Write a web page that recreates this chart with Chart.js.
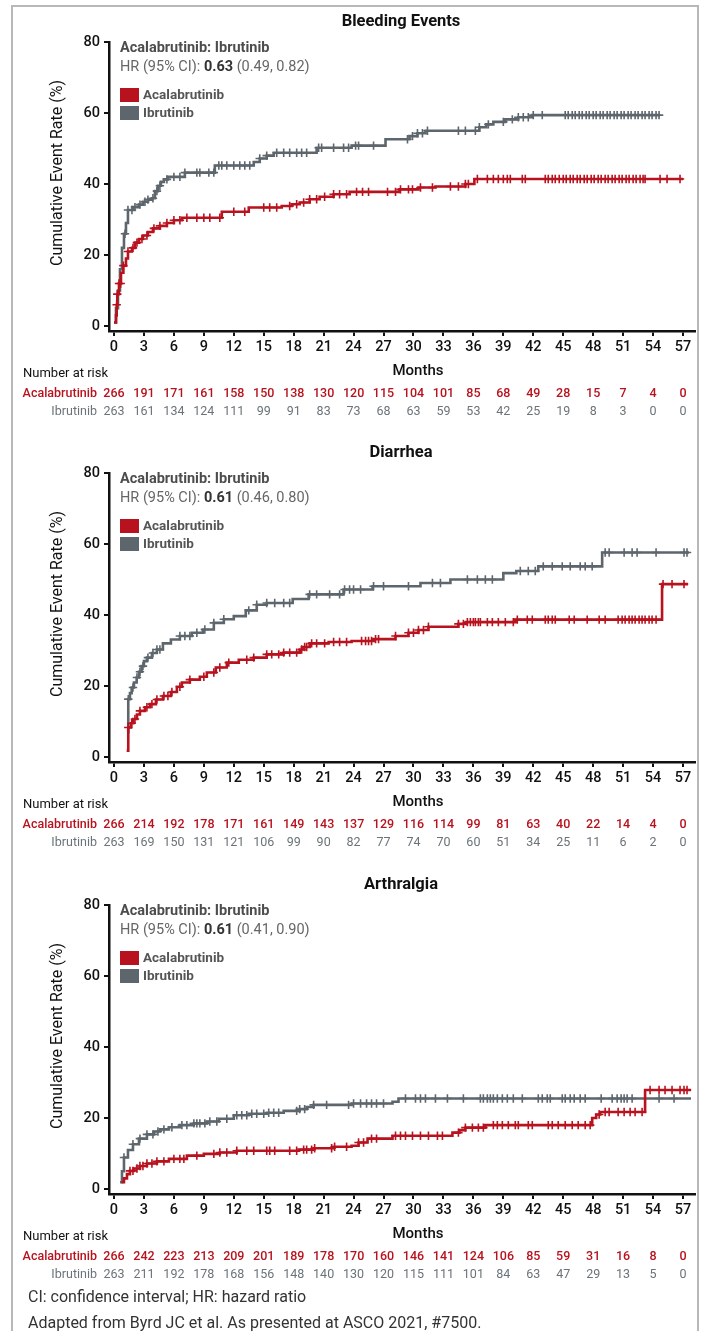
<!DOCTYPE html>
<html>
<head>
<meta charset="utf-8">
<script src="https://cdn.jsdelivr.net/npm/chart.js@4.4.0/dist/chart.umd.min.js"></script>
<style>
  body { margin: 0; background: #fff; width: 704px; height: 1331px; position: relative; overflow: hidden; font-family: Roboto, "Liberation Sans", sans-serif; }
  .frame { position: absolute; left: 11px; top: 5px; width: 684px; height: 1400px; border: 2px solid #b8b8b8; border-bottom: none; }
  canvas { position: absolute; left: 0; }
  .note { position: absolute; left: 28px; font-size: 16px; color: #333; white-space: nowrap; }
</style>
</head>
<body>
<div class="frame"></div>
<canvas id="bleed" width="704" height="431" style="top:0px"></canvas>
<canvas id="diar" width="704" height="431" style="top:431px"></canvas>
<canvas id="arth" width="704" height="431" style="top:863px"></canvas>
<div class="note" style="top:1287px">CI: confidence interval; HR: hazard ratio</div>
<div class="note" style="top:1313px">Adapted from Byrd JC et al. As presented at ASCO 2021, #7500.</div>
<script>
// axis ticks (months / percent)
const xTicks = [0, 3, 6, 9, 12, 15, 18, 21, 24, 27, 30, 33, 36, 39, 42, 45, 48, 51, 54, 57];
const yTicks = [0, 20, 40, 60, 80];

// ---- Bleeding events ----
const bleedAcalaT = [0, 0.2, 0.27, 0.33, 0.5, 0.7, 0.94, 1.2, 1.4, 1.8, 2.1, 2.5, 2.9, 3.4, 3.9, 4.6, 5.3, 6.0, 6.8, 10.8, 13.5, 16.8, 17.8, 18.6, 19.6, 20.6, 22.0, 23.6, 28.6, 30.5, 32.2, 35.2, 36.1, 57.0];
const bleedAcalaV = [1, 3, 6, 9, 12, 15, 17, 19, 21, 22, 23.5, 24.5, 25.5, 26.5, 27.5, 28.2, 29, 29.8, 30.5, 32.2, 33.4, 33.8, 34.3, 34.8, 35.7, 36.4, 37.1, 37.8, 38.5, 39.0, 39.3, 40.0, 41.4, 41.4];
const bleedAcalaCens = [0.27, 0.33, 0.5, 0.67, 0.94, 1.4, 1.9, 2.3, 2.8, 3.3, 4.0, 4.6, 5.3, 6.0, 6.6, 7.3, 8.3, 9.0, 9.6, 10.6, 12.0, 13.1, 15.0, 15.6, 16.3, 17.6, 18.3, 19.0, 19.6, 20.3, 21.1, 22.0, 22.6, 23.3, 24.3, 24.9, 25.5, 27.4, 28.2, 28.7, 29.5, 29.9, 30.7, 31.9, 33.7, 34.5, 35.2, 35.5, 36.4, 37.4, 38.0, 38.5, 39.0, 39.4, 39.7, 40.9, 41.2, 43.2, 43.5, 43.9, 44.2, 44.6, 45.0, 45.3, 45.7, 46.0, 46.4, 46.7, 47.1, 47.4, 47.8, 48.1, 48.5, 48.8, 49.2, 49.5, 49.9, 50.2, 50.6, 50.9, 51.3, 51.6, 52.0, 52.3, 52.7, 53.0, 53.2, 54.7, 55.4, 56.7];
const bleedIbruT = [0, 0.2, 0.4, 0.6, 0.8, 1.0, 1.2, 1.4, 1.9, 2.5, 2.9, 3.4, 3.8, 4.1, 4.4, 4.7, 5.0, 5.4, 7.1, 10.1, 14.0, 14.6, 15.3, 16.0, 20.3, 23.8, 27.2, 29.6, 30.4, 31.2, 36.6, 37.3, 38.0, 39.2, 40.5, 41.9, 54.7];
const bleedIbruV = [1, 5, 10, 16, 22, 26, 29, 32.7, 33.5, 34.2, 35, 35.6, 36, 38, 39.5, 40.6, 41.3, 42, 43.2, 45.2, 46.2, 47.2, 48, 48.8, 50.2, 50.8, 52.6, 53.5, 54.3, 55, 56, 56.8, 57.5, 58.2, 58.8, 59.4, 59.4];
const bleedIbruCens = [1.1, 1.4, 1.8, 2.1, 2.6, 3.1, 3.4, 3.9, 4.3, 4.6, 5.3, 6.0, 6.6, 7.1, 8.3, 8.6, 9.5, 10.0, 10.5, 10.8, 11.3, 12.0, 12.6, 13.1, 13.6, 14.6, 15.3, 16.3, 17.0, 17.6, 18.3, 18.8, 19.3, 20.5, 20.8, 22.0, 23.0, 23.5, 24.2, 24.5, 26.0, 29.4, 29.9, 30.4, 30.9, 31.4, 34.5, 35.2, 36.2, 36.6, 37.5, 39.0, 39.9, 40.5, 41.0, 41.5, 42.0, 42.9, 45.2, 45.5, 45.9, 46.2, 46.6, 46.9, 47.3, 47.6, 48.0, 48.3, 48.7, 49.0, 49.4, 49.7, 50.1, 50.4, 50.8, 51.1, 51.5, 51.8, 52.2, 52.5, 52.9, 53.2, 53.6, 53.9, 54.3, 54.6];
const bleedRiskAcala = [266, 191, 171, 161, 158, 150, 138, 130, 120, 115, 104, 101, 85, 68, 49, 28, 15, 7, 4, 0];
const bleedRiskIbru = [263, 161, 134, 124, 111, 99, 91, 83, 73, 68, 63, 59, 53, 42, 25, 19, 8, 3, 0, 0];

// ---- Diarrhea ----
const diarAcalaT = [1.27, 1.43, 1.7, 1.93, 2.3, 2.6, 3.1, 3.6, 4.2, 4.9, 5.7, 6.3, 6.8, 7.6, 8.6, 9.3, 10.2, 11.3, 12.5, 14.0, 15.3, 17.0, 18.6, 19.0, 19.6, 21.5, 23.8, 26.0, 28.2, 29.5, 30.5, 31.5, 34.5, 35.3, 40.2, 54.9, 57.5];
const diarAcalaV = [1.8, 8.3, 9.5, 10.7, 12, 13, 14, 14.9, 16.2, 17.2, 18.3, 19.8, 21, 21.8, 22.6, 23.8, 25.2, 26.6, 27.4, 28, 28.9, 29.4, 30.3, 31, 32, 32.4, 32.7, 33.2, 34.1, 35, 35.8, 36.7, 37.5, 38, 38.7, 48.7, 48.7];
const diarAcalaCens = [1.43, 1.77, 2.1, 2.6, 3.3, 3.8, 4.3, 5.0, 5.4, 5.8, 6.6, 7.6, 9.0, 10.0, 10.6, 11.5, 13.3, 14.0, 15.3, 15.8, 16.5, 17.0, 17.6, 18.3, 18.8, 19.1, 19.3, 19.8, 20.3, 21.1, 22.0, 22.6, 23.3, 24.8, 25.2, 25.5, 25.8, 26.2, 26.5, 28.2, 29.5, 30.0, 30.5, 31.0, 31.5, 34.5, 35.0, 35.4, 35.7, 36.0, 36.2, 36.5, 36.7, 37.4, 37.9, 38.5, 39.2, 40.0, 40.4, 41.4, 41.9, 43.2, 43.5, 43.9, 44.2, 45.6, 46.1, 47.4, 48.6, 49.2, 50.5, 50.9, 51.2, 51.6, 51.9, 52.2, 52.6, 52.9, 53.2, 53.6, 53.9, 54.3, 55.0, 55.9, 57.1];
const diarIbruT = [1.4, 1.43, 1.6, 1.77, 2.0, 2.27, 2.5, 2.77, 3.0, 3.3, 3.8, 4.3, 4.9, 5.7, 6.6, 7.8, 8.9, 10.0, 11.0, 12.0, 13.2, 14.3, 15.3, 17.9, 19.5, 23.0, 25.9, 30.7, 33.7, 39.0, 40.3, 42.5, 48.9, 57.6];
const diarIbruV = [7, 16.3, 18, 19.6, 21, 22.4, 24, 25.6, 27, 28, 29.3, 30.3, 32, 33.1, 34.1, 35, 35.9, 37.8, 38.8, 39.7, 41.3, 42.9, 43.4, 44.5, 45.8, 47.2, 48.1, 49, 50, 51.8, 52.4, 53.7, 57.6, 57.6];
const diarIbruCens = [1.43, 1.9, 2.3, 2.6, 2.9, 3.4, 3.9, 4.3, 4.6, 6.6, 7.1, 7.6, 8.3, 9.1, 10.0, 11.0, 13.5, 14.3, 15.3, 16.1, 17.0, 17.6, 19.6, 20.3, 21.6, 22.6, 23.1, 23.6, 24.0, 24.7, 26.0, 27.0, 29.5, 31.9, 32.7, 35.4, 36.4, 37.2, 37.9, 40.7, 41.5, 42.2, 43.0, 43.9, 44.9, 45.7, 46.7, 47.2, 47.9, 49.2, 49.6, 51.1, 51.9, 52.4, 54.3, 57.1, 57.4];
const diarRiskAcala = [266, 214, 192, 178, 171, 161, 149, 143, 137, 129, 116, 114, 99, 81, 63, 40, 22, 14, 4, 0];
const diarRiskIbru = [263, 169, 150, 131, 121, 106, 99, 90, 82, 77, 74, 70, 60, 51, 34, 25, 11, 6, 2, 0];

// ---- Arthralgia ----
const arthAcalaT = [0.77, 1.0, 1.3, 1.6, 2.0, 2.6, 3.3, 4.3, 5.5, 7.3, 9.0, 10.6, 12.3, 18.5, 20.0, 22.0, 23.8, 24.5, 25.4, 27.9, 33.9, 34.6, 35.2, 37.2, 47.9, 48.3, 48.7, 53.2, 57.8];
const arthAcalaV = [1.9, 3.0, 4.2, 5.1, 5.8, 6.5, 7.2, 7.8, 8.5, 9.4, 9.9, 10.3, 10.8, 11.1, 11.5, 11.9, 12.2, 13.1, 14.2, 15.0, 15.9, 16.6, 17.3, 18.0, 20.0, 21.0, 21.7, 27.9, 27.9];
const arthAcalaCens = [1.6, 1.9, 2.3, 2.6, 2.9, 3.3, 3.8, 4.3, 5.0, 6.0, 6.6, 7.0, 8.3, 10.0, 10.6, 11.3, 12.3, 13.3, 14.0, 15.3, 15.6, 16.1, 17.6, 18.3, 19.0, 19.3, 19.8, 20.1, 21.8, 22.1, 23.3, 24.5, 25.0, 25.8, 26.3, 28.2, 28.7, 29.2, 29.9, 30.7, 31.5, 32.4, 32.9, 34.5, 35.2, 35.9, 36.5, 37.0, 38.0, 38.4, 38.9, 39.5, 40.2, 40.5, 41.5, 41.9, 43.5, 43.9, 44.5, 45.2, 45.9, 46.5, 47.2, 47.7, 48.6, 49.2, 49.6, 50.5, 51.1, 51.7, 52.2, 52.9, 53.7, 54.6, 55.2, 55.9, 56.7, 57.1, 57.4];
const arthIbruT = [0.6, 0.8, 1.0, 1.4, 1.9, 2.5, 3.3, 4.0, 4.6, 5.5, 6.6, 8.0, 9.3, 10.5, 12.0, 13.5, 15.3, 17.0, 18.6, 19.3, 20.0, 23.8, 27.9, 28.5, 57.8];
const arthIbruV = [1.9, 5, 8.9, 11, 12.6, 14.2, 15.4, 16.2, 16.8, 17.4, 18, 18.5, 19, 19.8, 20.8, 21.2, 21.5, 22, 22.5, 23.1, 23.7, 24.1, 24.6, 25.5, 25.5];
const arthIbruCens = [1.0, 1.9, 2.6, 3.3, 3.9, 4.4, 5.0, 5.8, 6.8, 7.3, 8.0, 8.3, 8.6, 9.1, 9.6, 10.3, 11.3, 12.3, 12.8, 13.3, 13.8, 14.3, 15.0, 15.5, 16.0, 16.5, 18.3, 18.6, 19.1, 20.0, 21.3, 23.5, 24.0, 24.7, 25.3, 25.8, 26.3, 27.0, 29.2, 30.2, 30.7, 31.2, 32.2, 33.4, 35.0, 36.7, 37.0, 37.4, 37.7, 38.0, 38.4, 38.9, 39.4, 40.0, 40.9, 42.5, 42.9, 43.4, 43.7, 44.9, 45.2, 45.7, 46.1, 46.7, 47.2, 48.8, 49.9, 50.4, 50.8, 51.1, 51.4, 51.9, 54.6, 56.1];
const arthRiskAcala = [266, 242, 223, 213, 209, 201, 189, 178, 170, 160, 146, 141, 124, 106, 85, 59, 31, 16, 8, 0];
const arthRiskIbru = [263, 211, 192, 178, 168, 156, 148, 140, 130, 120, 115, 111, 101, 84, 63, 47, 29, 13, 5, 0];

const RED = '#b8121e';
const GREY = '#5d666c';
const FONT = 'Roboto, "Liberation Sans", sans-serif';

function curve(ts, vs) {
  return ts.map((t, i) => ({ x: t, y: vs[i] }));
}

// censor marks sit on the step curve at their time
function censor(ts, vs, cs) {
  return cs.map(c => {
    let v = vs[0];
    ts.forEach((t, i) => { if (t <= c) v = vs[i]; });
    return { x: c, y: v };
  });
}

const kmDecor = {
  id: 'kmDecor',
  afterDraw(chart, args, o) {
    const ctx = chart.ctx;
    const x = chart.scales.x;
    ctx.save();
    ctx.textBaseline = 'middle';

    ctx.fillStyle = '#111';
    ctx.textAlign = 'center';
    ctx.font = `bold 16.5px ${FONT}`;
    ctx.fillText(o.title, 401, 22);

    ctx.save();
    ctx.translate(58, 173);
    ctx.rotate(-Math.PI / 2);
    ctx.font = `16px ${FONT}`;
    ctx.fillText('Cumulative Event Rate (%)', 0, 0);
    ctx.restore();

    ctx.textAlign = 'left';
    ctx.fillStyle = '#4d4d4d';
    ctx.font = `bold 14.5px ${FONT}`;
    ctx.fillText('Acalabrutinib: Ibrutinib', 120, 48);
    let px = 120;
    [['HR (95% CI): ', 'normal', '#666'], [o.hr, 'bold', '#333'], [' ' + o.ci, 'normal', '#666']].forEach(([s, w, c]) => {
      ctx.font = `${w} 14.5px ${FONT}`;
      ctx.fillStyle = c;
      ctx.fillText(s, px, 67);
      px += ctx.measureText(s).width;
    });

    [[RED, 'Acalabrutinib', 95], [GREY, 'Ibrutinib', 113]].forEach(([c, label, y]) => {
      ctx.fillStyle = c;
      ctx.fillRect(120, y - 7, 19, 14);
      ctx.fillStyle = '#555';
      ctx.font = `bold 13.5px ${FONT}`;
      ctx.fillText(label, 143, y + 1);
    });

    ctx.fillStyle = '#111';
    ctx.textAlign = 'center';
    ctx.font = `500 15px ${FONT}`;
    ctx.fillText('Months', 418, 371);
    ctx.textAlign = 'left';
    ctx.font = `13px ${FONT}`;
    ctx.fillText('Number at risk', 23, 374);

    [[o.riskA, RED, '500', 'Acalabrutinib', 394], [o.riskI, '#6b7378', 'normal', 'Ibrutinib', 412]].forEach(([vals, c, w, label, y]) => {
      ctx.fillStyle = c;
      ctx.font = `${w} 12.5px ${FONT}`;
      ctx.textAlign = 'right';
      ctx.fillText(label, 97, y);
      ctx.textAlign = 'center';
      vals.forEach((n, i) => ctx.fillText(String(n), x.getPixelForValue(xTicks[i]), y));
    });
    ctx.restore();
  }
};

function makePanel(id, title, hr, ci, aT, aV, aC, iT, iV, iC, riskA, riskI) {
  const axisGrid = { display: true, drawOnChartArea: false, drawTicks: true, tickLength: 5, color: '#111', lineWidth: 2 };
  const axisBorder = { display: true, color: '#111', width: 2.5 };
  return new Chart(document.getElementById(id), {
    type: 'line',
    data: {
      datasets: [
        { data: curve(aT, aV), borderColor: RED, borderWidth: 2.6, stepped: true, pointRadius: 0, order: 0 },
        { data: censor(aT, aV, aC), showLine: false, pointStyle: 'cross', pointRadius: 4.2, pointBorderWidth: 1.6, pointBorderColor: RED, order: 1 },
        { data: curve(iT, iV), borderColor: GREY, borderWidth: 2.6, stepped: true, pointRadius: 0, order: 2 },
        { data: censor(iT, iV, iC), showLine: false, pointStyle: 'cross', pointRadius: 4.2, pointBorderWidth: 1.6, pointBorderColor: GREY, order: 3 },
      ],
    },
    options: {
      responsive: false,
      animation: false,
      clip: false,
      layout: { padding: { top: 42, right: 9, left: 0, bottom: 0 } },
      plugins: {
        legend: { display: false },
        tooltip: { enabled: false },
        kmDecor: { title, hr, ci, riskA, riskI },
      },
      scales: {
        x: {
          type: 'linear', min: -0.5, max: 58.2,
          afterBuildTicks: s => { s.ticks = xTicks.map(v => ({ value: v })); },
          afterFit: s => { s.height = 100; },
          grid: axisGrid, border: axisBorder,
          ticks: { color: '#111', font: { family: FONT, size: 14.5, weight: '500' }, padding: 3, maxRotation: 0, autoSkip: false },
        },
        y: {
          type: 'linear', min: -1.4, max: 80,
          afterBuildTicks: s => { s.ticks = yTicks.map(v => ({ value: v })); },
          afterFit: s => { s.width = 109; },
          grid: axisGrid, border: axisBorder,
          ticks: { color: '#111', font: { family: FONT, size: 14.5, weight: '500' }, padding: 4 },
        },
      },
    },
    plugins: [kmDecor],
  });
}

makePanel('bleed', 'Bleeding Events', '0.63', '(0.49, 0.82)', bleedAcalaT, bleedAcalaV, bleedAcalaCens, bleedIbruT, bleedIbruV, bleedIbruCens, bleedRiskAcala, bleedRiskIbru);
makePanel('diar', 'Diarrhea', '0.61', '(0.46, 0.80)', diarAcalaT, diarAcalaV, diarAcalaCens, diarIbruT, diarIbruV, diarIbruCens, diarRiskAcala, diarRiskIbru);
makePanel('arth', 'Arthralgia', '0.61', '(0.41, 0.90)', arthAcalaT, arthAcalaV, arthAcalaCens, arthIbruT, arthIbruV, arthIbruCens, arthRiskAcala, arthRiskIbru);
</script>
</body>
</html>
